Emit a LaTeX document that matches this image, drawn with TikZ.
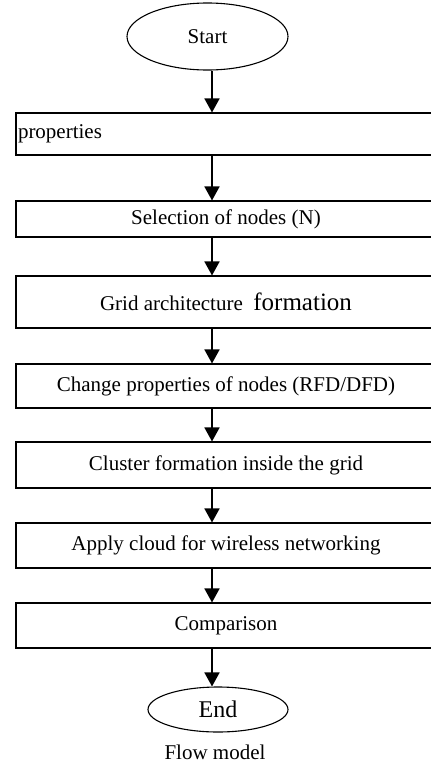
\documentclass[tikz,border=0pt]{standalone}
\usepackage{fontspec}
\setmainfont{Liberation Serif}
\usetikzlibrary{arrows.meta, shapes.geometric, positioning}

\begin{document}
\begin{tikzpicture}[x=1pt, y=-1pt]

    \tikzset
    {
        font={\fontsize{21}{25}\selectfont},
        stepbox/.style={draw, line width=1.1pt, minimum width=420pt, inner sep=2pt},
        terminal/.style={draw, ellipse, line width=1.1pt, inner sep=0pt},
        flow/.style={-{Triangle[width=15pt,length=14pt]}, line width=1.7pt}
    }

    \useasboundingbox (0,0) rectangle (431,769);
    \clip (0,0) rectangle (431,769);

    \coordinate (ax) at (212,0);

    \node[terminal, minimum width=161pt, minimum height=67pt] (start) at (207.5,36.5) {Start};
    \node[stepbox, minimum height=42pt, text width=416pt, align=left] (props) at (226,134) {properties};
    \node[stepbox, minimum height=36pt] (select) at (226,219) {Selection of nodes (N)};
    \node[stepbox, minimum height=52pt] (grid) at (226,302) {Grid architecture \ {\fontsize{25}{28}\selectfont formation}};
    \node[stepbox, minimum height=44pt] (change) at (226,386) {Change properties of nodes (RFD/DFD)};
    \node[stepbox, minimum height=46pt] (cluster) at (226,465) {Cluster formation inside the grid};
    \node[stepbox, minimum height=45pt] (cloud) at (226,545.5) {Apply cloud for wireless networking};
    \node[stepbox, minimum height=45pt] (compare) at (226,625.5) {Comparison};
    \node[terminal, minimum width=140pt, minimum height=45pt, font={\fontsize{24}{27}\selectfont}] (end) at (218,709.5) {End};
    \node (caption) at (215,752) {Flow model};

    \draw[flow] (start.south -| ax) -- (props.north -| ax);
    \draw[flow] (props.south -| ax) -- (select.north -| ax);
    \draw[flow] (select.south -| ax) -- (grid.north -| ax);
    \draw[flow] (grid.south -| ax) -- (change.north -| ax);
    \draw[flow] (change.south -| ax) -- (cluster.north -| ax);
    \draw[flow] (cluster.south -| ax) -- (cloud.north -| ax);
    \draw[flow] (cloud.south -| ax) -- (compare.north -| ax);
    \draw[flow] (compare.south -| ax) -- (end.north -| ax);

\end{tikzpicture}
\end{document}
